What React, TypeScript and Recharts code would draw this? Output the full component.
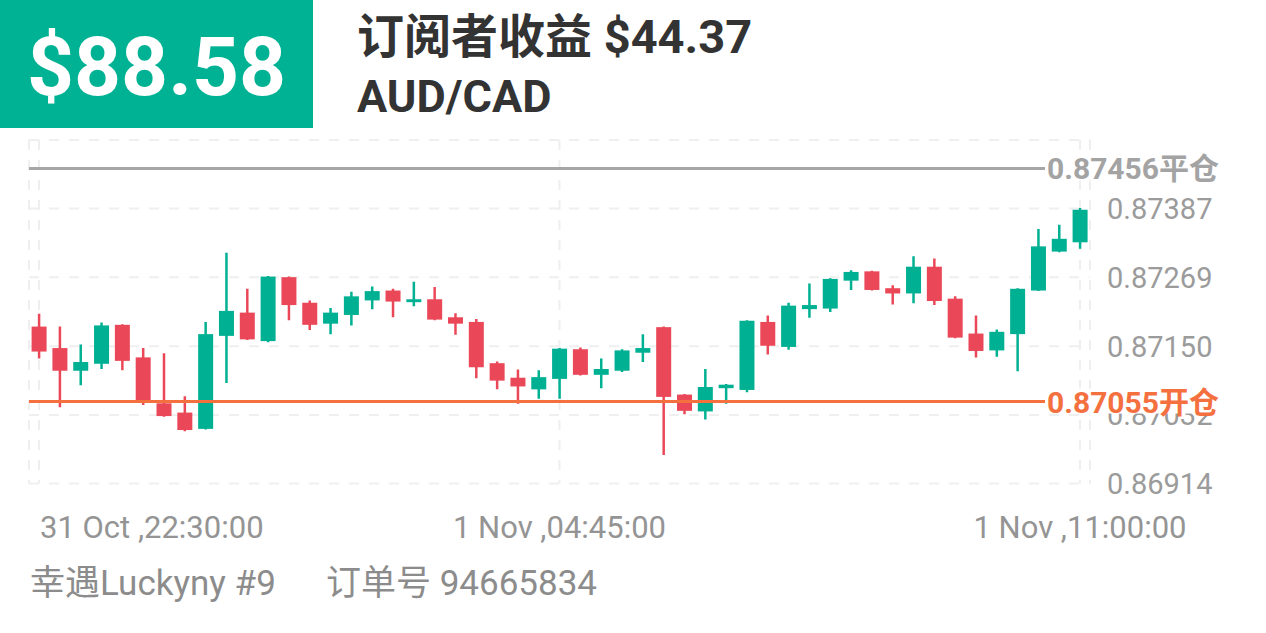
import { ComposedChart, Bar, XAxis, YAxis, CartesianGrid, ReferenceLine } from 'recharts';

const FONT = "Roboto, 'Noto Sans CJK SC', sans-serif";
const GREEN = '#00b092';
const RED = '#ea4858';
const ORANGE = '#f4703f';
const GREY_LINE = '#a6a6a6';

// 15-minute candles, 31 Oct 22:30 -> 1 Nov 11:00
const opens = [
  0.87184, 0.87147, 0.87108, 0.8712, 0.87187, 0.87131, 0.87052, 0.87036, 0.87008, 0.87168,
  0.87208, 0.87159, 0.87269, 0.87225, 0.87189, 0.87204, 0.87229, 0.87246, 0.87226, 0.87231,
  0.872, 0.87192, 0.87121, 0.87096, 0.87076, 0.87094, 0.87145, 0.87101, 0.87108, 0.87139,
  0.87183, 0.87067, 0.87038, 0.87078, 0.87075, 0.87192, 0.87149, 0.87214, 0.87215, 0.87263,
  0.87279, 0.8725, 0.87241, 0.87287, 0.87232, 0.87172, 0.87143, 0.87171, 0.87246, 0.87313,
  0.87329,
];
const highs = [
  0.87206, 0.87184, 0.87153, 0.87191, 0.87188, 0.87147, 0.87138, 0.87064, 0.87192, 0.87311,
  0.87249, 0.87271, 0.8727, 0.87229, 0.87216, 0.87244, 0.87253, 0.87249, 0.87261, 0.87252,
  0.87207, 0.87197, 0.87124, 0.8711, 0.87109, 0.87147, 0.87148, 0.87129, 0.87145, 0.87171,
  0.87184, 0.87068, 0.87111, 0.87085, 0.87195, 0.87203, 0.87225, 0.87258, 0.87267, 0.87281,
  0.8728, 0.87255, 0.87305, 0.87301, 0.87236, 0.87203, 0.87179, 0.8725, 0.87352, 0.87359,
  0.87388,
];
const lows = [
  0.87129, 0.87045, 0.87083, 0.87111, 0.87109, 0.87049, 0.87029, 0.87004, 0.87007, 0.87087,
  0.87161, 0.87157, 0.87195, 0.87178, 0.87171, 0.87186, 0.87214, 0.872, 0.87219, 0.87195,
  0.8717, 0.87095, 0.87076, 0.87051, 0.8706, 0.8706, 0.871, 0.87078, 0.87106, 0.87123,
  0.86963, 0.87033, 0.87024, 0.87051, 0.87071, 0.87136, 0.87144, 0.87199, 0.87209, 0.87247,
  0.87246, 0.87222, 0.87224, 0.87221, 0.87164, 0.87131, 0.87132, 0.87107, 0.87245, 0.87312,
  0.87318,
];
const closes = [
  0.87141, 0.87108, 0.87123, 0.87186, 0.87125, 0.87054, 0.8703, 0.87006, 0.87171, 0.87211,
  0.87162, 0.8727, 0.87221, 0.87187, 0.87208, 0.87236, 0.87245, 0.87227, 0.87231, 0.87196,
  0.87189, 0.87114, 0.87091, 0.87081, 0.87097, 0.87146, 0.87101, 0.87111, 0.87143, 0.87147,
  0.87063, 0.87039, 0.8708, 0.87084, 0.87194, 0.87151, 0.8722, 0.87221, 0.87266, 0.87278,
  0.87247, 0.87241, 0.87287, 0.87228, 0.87165, 0.87142, 0.87175, 0.87249, 0.87322, 0.87335,
  0.87385,
];

const xTicks = [0, 25, 50];
const xTickLabels = ['31 Oct ,22:30:00', '1 Nov ,04:45:00', '1 Nov ,11:00:00'];
const yTicks = [0.86914, 0.87032, 0.8715, 0.87269, 0.87387, 0.87505];
const yLabelTicks = [0.86914, 0.87032, 0.8715, 0.87269, 0.87387];
const yDomain = [0.86914, 0.87505];

const openPrice = 0.87055;
const closePrice = 0.87456;

const data = opens.map((o, i) => ({
  t: i,
  open: o,
  high: highs[i],
  low: lows[i],
  close: closes[i],
  range: [lows[i], highs[i]],
}));

function Candle(props: any) {
  const { x, y, width, height, payload } = props;
  if (x == null || y == null) return null;
  const { open, close, high, low } = payload;
  const top = Math.min(y, y + height);
  const h = Math.abs(height);
  const ppu = h / (high - low || 1e-9);
  const color = close >= open ? GREEN : RED;
  const bodyTop = top + (high - Math.max(open, close)) * ppu;
  const bodyH = Math.max(Math.abs(open - close) * ppu, 2);
  const cx = x + width / 2;
  return (
    <g>
      <line x1={cx} x2={cx} y1={top} y2={top + h} stroke={color} strokeWidth={2.5} />
      <rect x={x} y={bodyTop} width={width} height={bodyH} fill={color} />
    </g>
  );
}

function XTick(props: any) {
  const { x, payload } = props;
  const i = xTicks.indexOf(payload.value);
  const first = i === 0;
  return (
    <text
      x={first ? x + 1 : x}
      y={538}
      textAnchor={first ? 'start' : 'middle'}
      fill="#949494"
      fontSize={31}
      fontFamily={FONT}
    >
      {xTickLabels[i]}
    </text>
  );
}

// y tick text, drawn as a reference-line label so price tags can sit on top of it
function TickLabel(props: any) {
  const { viewBox, value } = props;
  if (!viewBox) return null;
  return (
    <text
      x={viewBox.x + viewBox.width + 17}
      y={viewBox.y + 10.5}
      textAnchor="start"
      fill="#9b9b9b"
      fontSize={29}
      fontFamily={FONT}
    >
      {value.toFixed(5)}
    </text>
  );
}

function PriceLabel(props: any) {
  const { viewBox, text, color } = props;
  if (!viewBox) return null;
  const x0 = viewBox.x + viewBox.width - 45;
  const cy = viewBox.y;
  return (
    <g>
      <rect x={x0} y={cy - 13} width={185} height={25} fill="#fff" />
      <text x={x0 + 2} y={cy + 11} fill={color} fontSize={30} fontWeight={700} fontFamily={FONT}>
        {text}
      </text>
    </g>
  );
}

export default function App() {
  return (
    <div style={{ position: 'absolute', left: 0, top: 0, width: 1266, height: 633, background: '#fff' }}>
      <ComposedChart
        width={1266}
        height={633}
        data={data}
        margin={{ top: 140, left: 29, right: 16, bottom: 89.5 }}
      >
        <CartesianGrid
          stroke="#efefef"
          strokeWidth={2}
          strokeDasharray="10 10"
          horizontalValues={yTicks}
        />
        <XAxis
          dataKey="t"
          type="number"
          domain={[0, 50]}
          ticks={xTicks}
          interval={0}
          padding={{ left: 10, right: 10 }}
          axisLine={false}
          tickLine={false}
          tick={<XTick />}
          height={60}
        />
        <YAxis
          orientation="right"
          type="number"
          domain={yDomain}
          ticks={yTicks}
          interval={0}
          allowDataOverflow
          axisLine={false}
          tickLine={false}
          tick={() => <g />}
          width={160}
        />
        <Bar dataKey="range" barSize={15} shape={<Candle />} isAnimationActive={false} />
        {yLabelTicks.map((v) => (
          <ReferenceLine
            key={v}
            y={v}
            stroke="none"
            strokeWidth={0}
            label={(p: any) => <TickLabel {...p} value={v} />}
          />
        ))}
        <ReferenceLine
          y={closePrice}
          stroke={GREY_LINE}
          strokeWidth={3}
          label={(p: any) => <PriceLabel {...p} text={`${closePrice.toFixed(5)}平仓`} color="#a3a3a3" />}
        />
        <ReferenceLine
          y={openPrice}
          stroke={ORANGE}
          strokeWidth={3}
          label={(p: any) => <PriceLabel {...p} text={`${openPrice.toFixed(5)}开仓`} color={ORANGE} />}
        />
      </ComposedChart>
      <svg
        width={1266}
        height={633}
        style={{ position: 'absolute', left: 0, top: 0, pointerEvents: 'none' }}
      >
        <rect x={0} y={0} width={313} height={128} fill="#00b294" />
        <text x={27} y={95} fill="#fff" fontSize={82} fontWeight={700} fontFamily={FONT}>
          $88.58
        </text>
        <text x={357} y={53} fill="#333" fontSize={47} fontWeight={700} fontFamily={FONT}>
          订阅者收益 $44.37
        </text>
        <text x={357} y={112} fill="#333" fontSize={45} fontWeight={700} fontFamily={FONT}>
          AUD/CAD
        </text>
        <text x={30} y={595} fill="#8c8c8c" fontSize={35} fontFamily={FONT}>
          幸遇Luckyny #9
        </text>
        <text x={326} y={595} fill="#8c8c8c" fontSize={35} fontFamily={FONT}>
          订单号 94665834
        </text>
      </svg>
    </div>
  );
}
